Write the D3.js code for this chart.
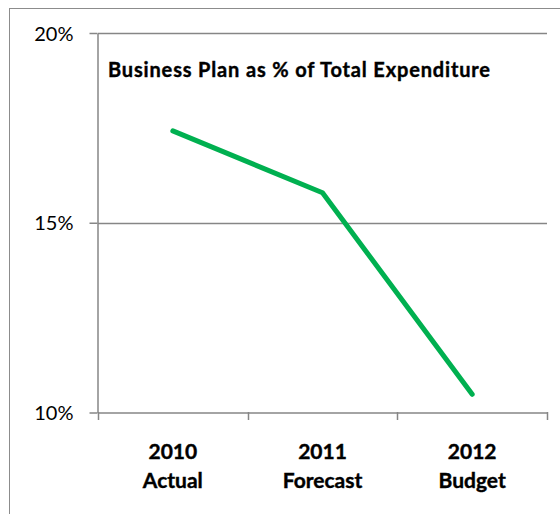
<!DOCTYPE html>
<html><head><meta charset="utf-8">
<script src="https://cdn.jsdelivr.net/npm/d3@7"></script>
<style>body{margin:0;background:#fff}svg{display:block}</style>
</head><body>
<svg id="c" width="560" height="514"></svg>
<script>
const years = ["2010", "2011", "2012"];
const kinds = ["Actual", "Forecast", "Budget"];
const values = [17.42, 15.79, 10.48];
const yTicks = [10, 15, 20];
const title = "Business Plan as % of Total Expenditure";

const svg = d3.select("#c");
const font = "Lato, 'Open Sans', sans-serif";
const axisColor = "#868686";

// outer chart border
svg.append("rect").attr("x", 9.5).attr("y", 8.5).attr("width", 560).attr("height", 520)
  .attr("fill", "none").attr("stroke", "#8c8c8c").attr("stroke-width", 1);

const x = d3.scaleBand().domain(years).range([98, 547]);
const y = d3.scaleLinear().domain([10, 20]).range([412.5, 33]);

// gridlines
svg.append("g").selectAll("line").data(yTicks.filter(d => d !== 10)).join("line")
  .attr("x1", 98).attr("x2", 547).attr("y1", d => Math.round(y(d)) + 0.5).attr("y2", d => Math.round(y(d)) + 0.5)
  .attr("stroke", axisColor).attr("stroke-width", 1.5);

// y axis
const yAxis = svg.append("g").attr("transform", "translate(97.5,0)")
  .call(d3.axisLeft(y).tickValues(yTicks).tickSize(8).tickSizeOuter(0).tickFormat(d => d + "%"));
yAxis.select(".domain").attr("stroke", axisColor).attr("stroke-width", 1.5);
yAxis.selectAll(".tick line").attr("stroke", axisColor).attr("stroke-width", 1.5);
yAxis.selectAll(".tick text").attr("font-family", font).attr("font-size", 20).attr("fill", "#000")
  .attr("x", -24).attr("dy", "0.36em");

// x axis
const xAxis = svg.append("g").attr("transform", "translate(0,412.5)")
  .call(d3.axisBottom(x).tickSize(0).tickSizeOuter(0).tickFormat(""));
xAxis.select(".domain").attr("stroke", axisColor).attr("stroke-width", 1.5);
const bounds = [...years.map(d => x(d)), x.range()[1]];
svg.append("g").selectAll("line").data(bounds).join("line")
  .attr("x1", d => Math.round(d) + 0.5).attr("x2", d => Math.round(d) + 0.5)
  .attr("y1", 412).attr("y2", 420).attr("stroke", axisColor).attr("stroke-width", 1.5);

const lbl = svg.append("g").selectAll("text").data(years).join("text")
  .attr("x", d => x(d) + x.bandwidth() / 2).attr("text-anchor", "middle")
  .attr("font-family", font).attr("font-weight", "bold").attr("font-size", 21).attr("fill", "#000")
  .attr("stroke", "#000").attr("stroke-width", 0.4);
lbl.append("tspan").attr("x", d => x(d) + x.bandwidth() / 2).attr("y", 459).text(d => d);
lbl.append("tspan").attr("x", d => x(d) + x.bandwidth() / 2).attr("y", 488).text((d, i) => kinds[i]);

// line
const line = d3.line().x((d, i) => x(years[i]) + x.bandwidth() / 2).y(d => y(d));
svg.append("path").datum(values).attr("d", line).attr("fill", "none")
  .attr("stroke", "#00B050").attr("stroke-width", 5).attr("stroke-linecap", "round").attr("stroke-linejoin", "round");

// title
svg.append("text").attr("x", 108).attr("y", 77).attr("font-family", font).attr("font-weight", "bold")
  .attr("font-size", 20).attr("textLength", 382).attr("lengthAdjust", "spacing")
  .attr("stroke", "#000").attr("stroke-width", 0.4)
  .attr("fill", "#000").text(title);
</script>
</body></html>
